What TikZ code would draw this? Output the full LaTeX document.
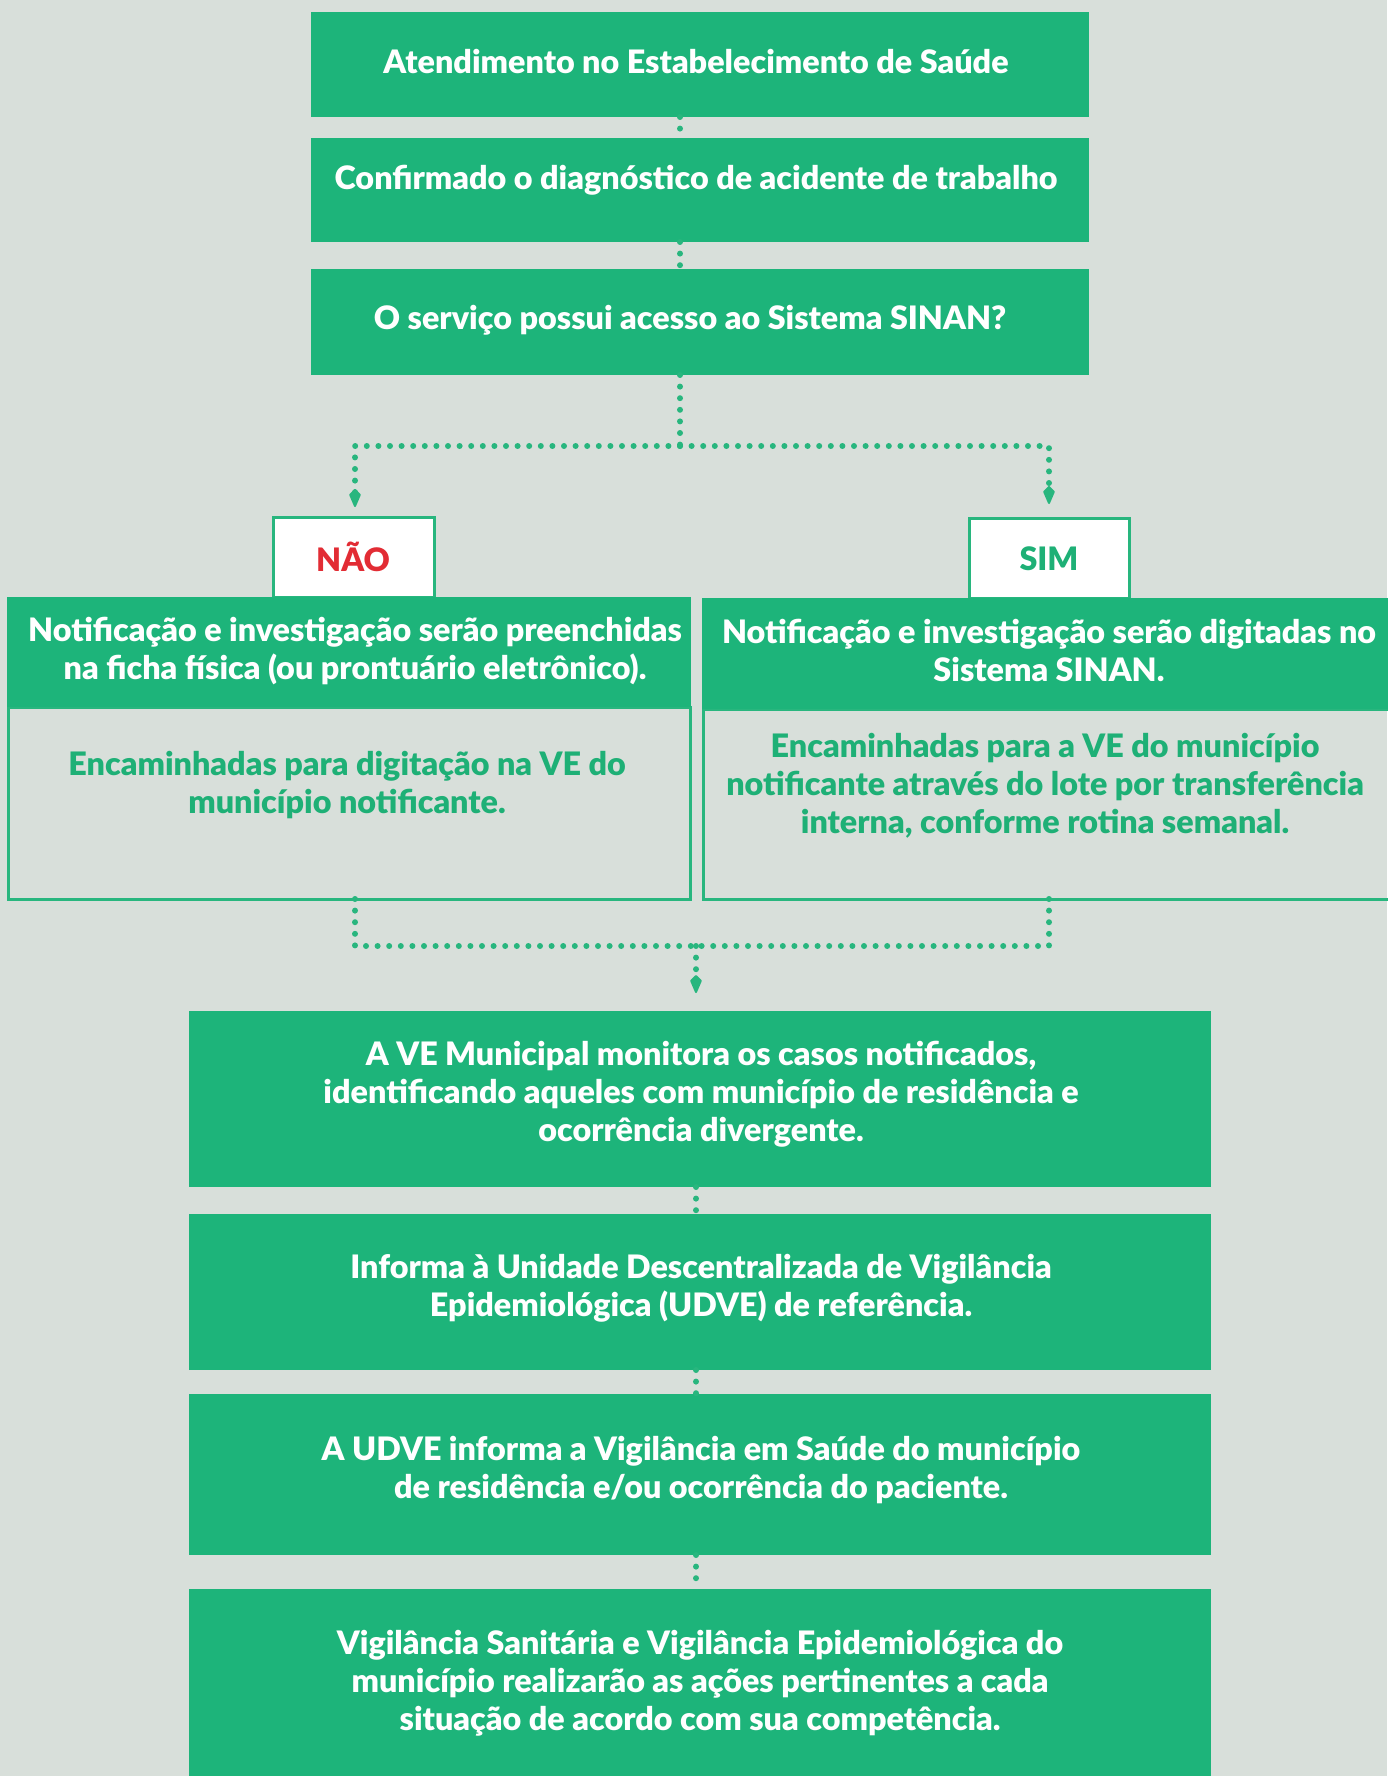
\documentclass[tikz,border=0pt]{standalone}
\usepackage{fontspec}
\setmainfont{Lato}[BoldFont={Lato Black}]
\usetikzlibrary{arrows.meta,fit}
\definecolor{bgc}{RGB}{216,223,218}
\definecolor{gfill}{RGB}{29,180,122}
\definecolor{gline}{RGB}{40,182,126}
\definecolor{gtext}{RGB}{30,176,118}
\definecolor{rtext}{RGB}{226,44,52}
\tikzset{
  gbox/.style={fill=gfill,draw=none,inner sep=0pt,outer sep=0pt},
  obox/.style={draw=gline,line width=3pt,inner sep=0pt,outer sep=0pt},
  wbox/.style={fill=white,draw=gline,line width=3pt,inner sep=0pt,outer sep=0pt},
  wtxt/.style={text=white,font=\fontsize{32.3}{38}\selectfont\bfseries,align=center,inner sep=0pt},
  gtxt/.style={text=gtext,font=\fontsize{32.3}{38}\selectfont\bfseries,align=center,inner sep=0pt},
  dotline/.style={draw=gline,line width=6pt,dash pattern=on 0pt off 11.6pt,line cap=round},
  tipdown/.style={-{Kite[length=20pt,width=12pt,inset=6pt,round,line width=2pt]}}
}
\begin{document}
\begin{tikzpicture}[x=1pt,y=-1pt]
\fill[bgc] (0,0) rectangle (1387,1776);
\useasboundingbox (0,0) rectangle (1387,1776);

% top boxes
\node[gbox,fit={(311,12) (1089,117)}] (b1) {};
\node[gbox,fit={(311,138) (1089,242)}] (b2) {};
\node[gbox,fit={(311,269) (1089,375)}] (b3) {};
\node[wtxt] (t1) at (696,61) {Atendimento no Estabelecimento de Saúde};
\node[wtxt] (t2) at (696,180) {Confirmado o diagnóstico de acidente de trabalho};
\node[wtxt] (t3) at (690,320) {O serviço possui acesso ao Sistema SINAN?};

% branch boxes
\node[wbox,fit={(273,517) (434,597)}] (nao) {};
\node[wbox,fit={(969,518) (1129,598)}] (sim) {};
\node[text=rtext,font=\fontsize{32.3}{38}\selectfont\bfseries,inner sep=0pt] (tnao) at (353,557) {NÃO};
\node[text=gtext,font=\fontsize{32.3}{38}\selectfont\bfseries,inner sep=0pt] (tsim) at (1049,559) {SIM};

\node[obox,fit={(8,707) (690,899)}] (lbody) {};
\node[obox,fit={(703,709) (1395,899)}] (rbody) {};
\node[gbox,fit={(7,597) (691,707)}] (lhead) {};
\node[gbox,fit={(702,598) (1395,709)}] (rhead) {};

\node[wtxt] (tlh) at (355,651) {Notificação e investigação serão preenchidas\\na ficha física (ou prontuário eletrônico).};
\node[gtxt] (tlb) at (347,785) {Encaminhadas para digitação na VE do\\município notificante.};
\node[wtxt] (trh) at (1049,650) {Notificação e investigação serão digitadas no\\Sistema SINAN.};
\node[gtxt] (trb) at (1045,786) {Encaminhadas para a VE do município\\notificante através do lote por transferência\\interna, conforme rotina semanal.};

% bottom boxes
\node[gbox,fit={(189,1011) (1211,1187)}] (b4) {};
\node[gbox,fit={(189,1214) (1211,1370)}] (b5) {};
\node[gbox,fit={(189,1394) (1211,1555)}] (b6) {};
\node[gbox,fit={(189,1589) (1211,1780)}] (b7) {};
\node[wtxt] (t4) at (701,1094) {A VE Municipal monitora os casos notificados,\\identificando aqueles com município de residência e\\ocorrência divergente.};
\node[wtxt] (t5) at (701,1288) {Informa à Unidade Descentralizada de Vigilância\\Epidemiológica (UDVE) de referência.};
\node[wtxt] (t6) at (701,1470) {A UDVE informa a Vigilância em Saúde do município\\de residência e/ou ocorrência do paciente.};
\node[wtxt] (t7) at (700,1683) {Vigilância Sanitária e Vigilância Epidemiológica do\\município realizarão as ações pertinentes a cada\\situação de acordo com sua competência.};

% connectors
\coordinate (topx) at (680,0);
\coordinate (split) at (680,446);
\coordinate (lx) at (355,0);
\coordinate (rx) at (1049,0);
\coordinate (merge) at (696,946);
\coordinate (botx) at (696,0);

\draw[dotline] (b1.south -| topx) -- (b2.north -| topx);
\draw[dotline] (b2.south -| topx) -- (b3.north -| topx);
\draw[dotline] (b3.south -| topx) -- (split);
\draw[dotline,tipdown,shorten >=10pt] (split) -| (nao.north -| lx);
\draw[dotline,tipdown,shorten >=14pt] (split) -| (sim.north -| rx);

\draw[dotline] (lbody.south -| lx) |- (merge);
\draw[dotline] (rbody.south -| rx) |- (merge);
\draw[dotline,tipdown,shorten >=18pt] (merge) -- (b4.north -| botx);
\draw[dotline] (b4.south -| botx) -- (b5.north -| botx);
\draw[dotline] (b5.south -| botx) -- (b6.north -| botx);
\draw[dotline] (b6.south -| botx) -- (b7.north -| botx);
\end{tikzpicture}
\end{document}
